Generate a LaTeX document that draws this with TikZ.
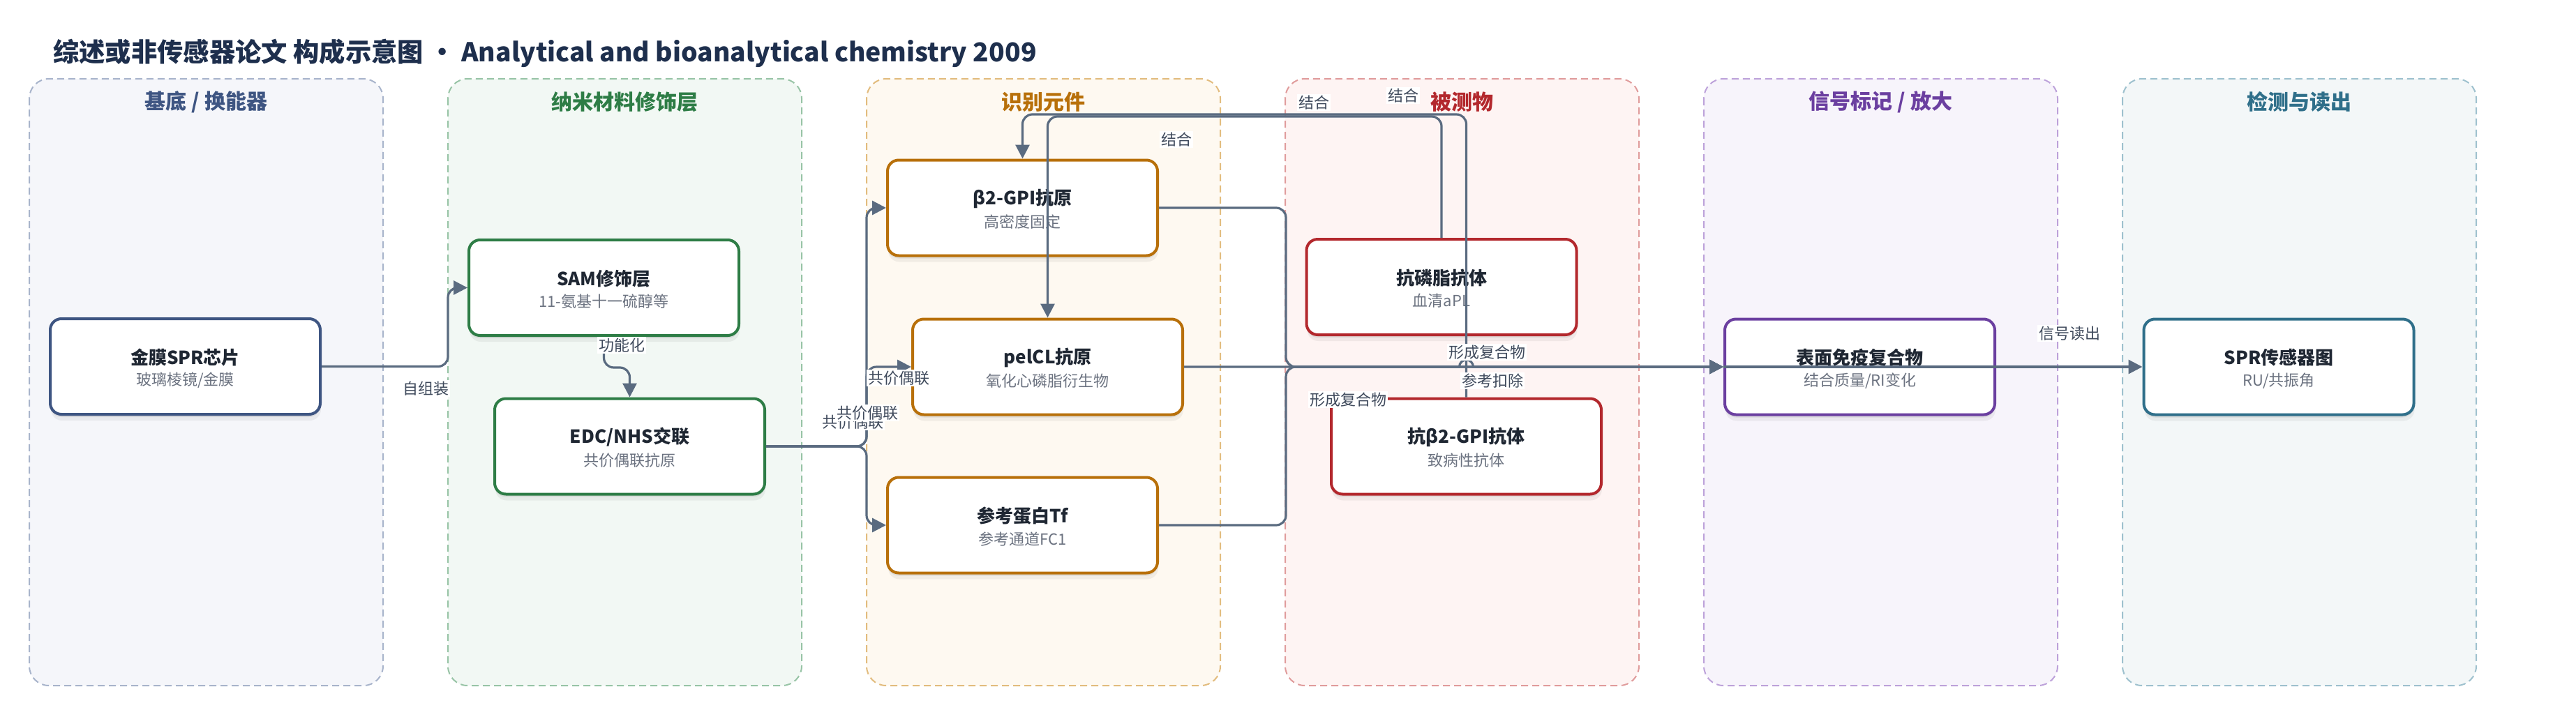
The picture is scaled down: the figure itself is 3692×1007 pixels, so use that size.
\documentclass[tikz,border=0pt]{standalone}
\usepackage{fontspec}
\setmainfont{Noto Sans CJK SC}
\usetikzlibrary{arrows.meta,shadows,calc}
\definecolor{ttlc}{HTML}{1E2F4D}
\definecolor{edgec}{HTML}{5A6B80}
\definecolor{lblc}{HTML}{3F4A5C}
\definecolor{nodet}{HTML}{1F2733}
\definecolor{subc}{HTML}{6B7280}
\definecolor{cA}{HTML}{3E5582}\definecolor{fA}{HTML}{F5F6FA}\definecolor{bA}{HTML}{A8B4CB}
\definecolor{cB}{HTML}{2E7D46}\definecolor{fB}{HTML}{F2F8F4}\definecolor{bB}{HTML}{98C4A6}
\definecolor{cC}{HTML}{B8700A}\definecolor{fC}{HTML}{FEF9F1}\definecolor{bC}{HTML}{E2BC7E}
\definecolor{cD}{HTML}{B3282D}\definecolor{fD}{HTML}{FEF4F3}\definecolor{bD}{HTML}{E09C9C}
\definecolor{cE}{HTML}{6B3FA0}\definecolor{fE}{HTML}{F7F4FB}\definecolor{bE}{HTML}{BDA2DA}
\definecolor{cF}{HTML}{2F6F8A}\definecolor{fF}{HTML}{F3F7F8}\definecolor{bF}{HTML}{9EC1CE}
\tikzset{
  lane/.style={line width=2pt, dash pattern=on 10pt off 6pt, rounded corners=28pt},
  lanehead/.style={font=\bfseries\fontsize{30}{36}\selectfont},
  box/.style={line width=4pt, rounded corners=16pt, fill=white, minimum width=387pt, minimum height=137pt, inner sep=0pt,
    drop shadow={shadow xshift=0pt, shadow yshift=-4pt, opacity=.07, fill=black},
    drop shadow={shadow xshift=1pt, shadow yshift=-9pt, opacity=.05, fill=black}},
  ttl/.style={font=\bfseries\fontsize{26}{30}\selectfont, text=nodet, inner sep=0pt},
  sub/.style={font=\fontsize{22}{26}\selectfont, text=subc, inner sep=0pt},
  edge/.style={draw=edgec, line width=3.2pt, rounded corners=14pt, -{Triangle[length=20pt,width=20pt]}},
  lbl/.style={font=\fontsize{22}{26}\selectfont, text=lblc, fill=white, inner sep=2pt}
}
\begin{document}
\begin{tikzpicture}[x=1pt,y=-1pt]
\useasboundingbox (0,0) rectangle (3692,1007);
% title
\node[anchor=west, inner sep=0pt, font=\bfseries\fontsize{37.3}{44}\selectfont, text=ttlc] (title) at (76,76) {综述或非传感器论文 构成示意图 • Analytical and bioanalytical chemistry 2009};
% lanes
\draw[lane, draw=bA, fill=fA] (42,113) rectangle (549,983);
\draw[lane, draw=bB, fill=fB] (642,113) rectangle (1149,983);
\draw[lane, draw=bC, fill=fC] (1242,113) rectangle (1749,983);
\draw[lane, draw=bD, fill=fD] (1842,113) rectangle (2349,983);
\draw[lane, draw=bE, fill=fE] (2442,113) rectangle (2949,983);
\draw[lane, draw=bF, fill=fF] (3042,113) rectangle (3549,983);
\node[lanehead, text=cA] (h1) at (295.5,146) {基底 / 换能器};
\node[lanehead, text=cB] (h2) at (895.5,146) {纳米材料修饰层};
\node[lanehead, text=cC] (h3) at (1495.5,146) {识别元件};
\node[lanehead, text=cD] (h4) at (2095.5,146) {被测物};
\node[lanehead, text=cE] (h5) at (2695.5,146) {信号标记 / 放大};
\node[lanehead, text=cF] (h6) at (3295.5,146) {检测与读出};
% nodes
\node[box, draw=cA] (n1) at (265.5,525.5) {};
\node[ttl] (n1t) at ($(n1.center)+(0,-13)$) {金膜SPR芯片};
\node[sub] (n1s) at ($(n1.center)+(0,20)$) {玻璃棱镜/金膜};
\node[box, draw=cB] (n2) at (865.5,412.5) {};
\node[ttl] (n2t) at ($(n2.center)+(0,-13)$) {SAM修饰层};
\node[sub] (n2s) at ($(n2.center)+(0,20)$) {11-氨基十一硫醇等};
\node[box, draw=cB] (n3) at (902.5,640) {};
\node[ttl] (n3t) at ($(n3.center)+(0,-13)$) {EDC/NHS交联};
\node[sub] (n3s) at ($(n3.center)+(0,20)$) {共价偶联抗原};
\node[box, draw=cC] (n4) at (1465.5,298) {};
\node[ttl] (n4t) at ($(n4.center)+(0,-13)$) {β2-GPI抗原};
\node[sub] (n4s) at ($(n4.center)+(0,20)$) {高密度固定};
\node[box, draw=cC] (n5) at (1501.5,526) {};
\node[ttl] (n5t) at ($(n5.center)+(0,-13)$) {pelCL抗原};
\node[sub] (n5s) at ($(n5.center)+(0,20)$) {氧化心磷脂衍生物};
\node[box, draw=cC] (n6) at (1465.5,753) {};
\node[ttl] (n6t) at ($(n6.center)+(0,-13)$) {参考蛋白Tf};
\node[sub] (n6s) at ($(n6.center)+(0,20)$) {参考通道FC1};
\node[box, draw=cD] (n7) at (2066,411.5) {};
\node[ttl] (n7t) at ($(n7.center)+(0,-13)$) {抗磷脂抗体};
\node[sub] (n7s) at ($(n7.center)+(0,20)$) {血清aPL};
\node[box, draw=cD] (n8) at (2101.5,640) {};
\node[ttl] (n8t) at ($(n8.center)+(0,-13)$) {抗β2-GPI抗体};
\node[sub] (n8s) at ($(n8.center)+(0,20)$) {致病性抗体};
\node[box, draw=cE] (n9) at (2665.5,526) {};
\node[ttl] (n9t) at ($(n9.center)+(0,-13)$) {表面免疫复合物};
\node[sub] (n9s) at ($(n9.center)+(0,20)$) {结合质量/RI变化};
\node[box, draw=cF] (n10) at (3266,526) {};
\node[ttl] (n10t) at ($(n10.center)+(0,-13)$) {SPR传感器图};
\node[sub] (n10s) at ($(n10.center)+(0,20)$) {RU/共振角};
% edges
\draw[edge] (n1.east) -- (642,525.5) |- (n2.west);
\draw[edge] (n2.south) -- (865.5,527) -| (n3.north);
\draw[edge] (n3.east) -- (1242,640) |- (n4.west);
\draw[edge] (n3.east) -- (1242,640) |- (n5.west);
\draw[edge] (n3.east) -- (1242,640) |- (n6.west);
\draw[edge] (n8.north) -- (2101.5,164) -| (n4.north);
\draw[edge] (n7.north) -- (2066,167) -| (n5.north);
\draw[edge] (n4.east) -- (1843,298) |- (n9.west);
\draw[edge, sharp corners] (n5.east) -- (2091.5,526) arc[start angle=180, end angle=360, radius=10] -- (n9.west);
\draw[edge] (n6.east) -- (1843,753) |- (n9.west);
\draw[edge] (n9.west) -- (n10.west);
% labels
\node[lbl] (l1) at (610,557) {自组装};
\node[lbl] (l2) at (891,495) {功能化};
\node[lbl] (l3) at (1288,542) {共价偶联};
\node[lbl] (l5) at (1222,605) {共价偶联};
\node[lbl] (l4) at (1243,592) {共价偶联};
\node[lbl] (l6) at (1686,200) {结合};
\node[lbl] (l7) at (1883,147) {结合};
\node[lbl] (l8) at (2011,137) {结合};
\node[lbl] (l9) at (2131,505) {形成复合物};
\node[lbl] (l10) at (2139,546) {参考扣除};
\node[lbl] (l11) at (1932,573) {形成复合物};
\node[lbl] (l12) at (2966,478) {信号读出};
\end{tikzpicture}
\end{document}
